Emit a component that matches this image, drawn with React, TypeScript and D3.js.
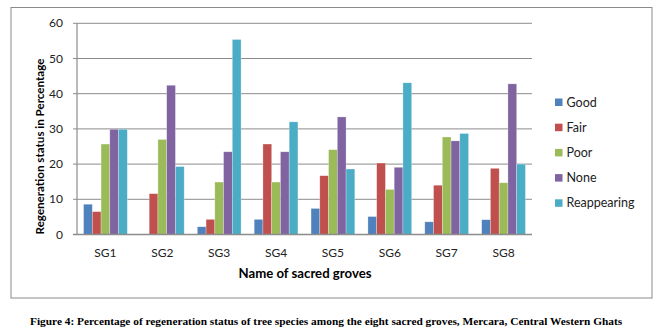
import React from "react";
import * as d3 from "d3";

const categories = ["SG1", "SG2", "SG3", "SG4", "SG5", "SG6", "SG7", "SG8"];
const seriesNames = ["Good", "Fair", "Poor", "None", "Reappearing"];
const good = [8.6, 0, 2.2, 4.3, 7.4, 5.1, 3.6, 4.2];
const fair = [6.5, 11.6, 4.3, 25.7, 16.7, 20.3, 14.0, 18.8];
const poor = [25.7, 27.0, 14.9, 14.9, 24.1, 12.8, 27.7, 14.7];
const none = [29.9, 42.4, 23.5, 23.5, 33.4, 19.1, 26.6, 42.8];
const reappearing = [29.9, 19.3, 55.4, 32.0, 18.6, 43.1, 28.7, 20.0];
const yTicks = [0, 10, 20, 30, 40, 50, 60];
const colors = ["#4F81BD", "#C0504D", "#9BBB59", "#8064A2", "#4BACC6"];

const seriesValues = [good, fair, poor, none, reappearing];

export default function App() {
  const W = 656, H = 334;
  const left = 77, right = 532, top = 23.3, bottom = 234.5;
  const x0 = d3.scaleBand<string>().domain(categories).range([left, right]).paddingInner(0).paddingOuter(0);
  const groupW = x0.bandwidth();
  const barW = groupW / 6.5;
  const y = d3.scaleLinear().domain([0, 60]).range([bottom, top]);
  const font = "Lato, 'Open Sans', sans-serif";

  return (
    <svg width={W} height={H} style={{ position: "absolute", left: 0, top: 0, background: "#fff" }}>
      <rect x={11} y={7.5} width={641} height={290.5} fill="#fff" stroke="#8a8a8a" strokeWidth={1} />
      {yTicks.map((t) => (
        <g key={t}>
          {t > 0 && <line x1={left} x2={right} y1={y(t)} y2={y(t)} stroke="#8c8c8c" strokeWidth={1} />}
          <line x1={left - 4} x2={left} y1={y(t)} y2={y(t)} stroke="#8c8c8c" strokeWidth={1} />
          <text x={63} y={y(t) + 4} textAnchor="end" fontFamily={font} fontSize={12} fill="#222">{t}</text>
        </g>
      ))}
      {categories.map((c, i) => (
        <g key={c}>
          {seriesValues.map((vals, s) => {
            const bx = (x0(c) as number) + groupW / 2 - (5 * barW) / 2 + s * barW;
            const v = vals[i];
            if (v <= 0) return null;
            return (
              <rect key={s} x={bx} y={y(v)} width={barW} height={y(0) - y(v)} fill={colors[s]} stroke="rgba(255,255,255,0.45)" strokeWidth={0.6} />
            );
          })}
          <text x={(x0(c) as number) + groupW / 2} y={257} textAnchor="middle" fontFamily={font} fontSize={12} fill="#222">{c}</text>
        </g>
      ))}
      <line x1={left} x2={left} y1={top} y2={bottom} stroke="#8c8c8c" strokeWidth={1.2} />
      <line x1={left - 4} x2={right} y1={bottom} y2={bottom} stroke="#8c8c8c" strokeWidth={1.5} />
      <text transform={`translate(44,146.5) rotate(-90)`} textAnchor="middle" fontFamily={font} fontWeight="bold" fontSize={11.6} fill="#000">Regeneration status in Percentage</text>
      <text x={305} y={278} textAnchor="middle" fontFamily={font} fontWeight="bold" fontSize={13.2} fill="#000">Name of sacred groves</text>
      {seriesNames.map((n, s) => (
        <g key={n}>
          <rect x={555} y={98.5 + s * 25.2} width={7.5} height={7.5} fill={colors[s]} />
          <text x={566.5} y={106.5 + s * 25.2} fontFamily={font} fontSize={12.5} fill="#222">{n}</text>
        </g>
      ))}
      <text x={30} y={325} fontFamily="'Liberation Serif', 'Times New Roman', serif" fontWeight="bold" fontSize={11.35} fill="#000">
        Figure 4: Percentage of regeneration status of tree species among the eight sacred groves, Mercara, Central Western Ghats
      </text>
    </svg>
  );
}
